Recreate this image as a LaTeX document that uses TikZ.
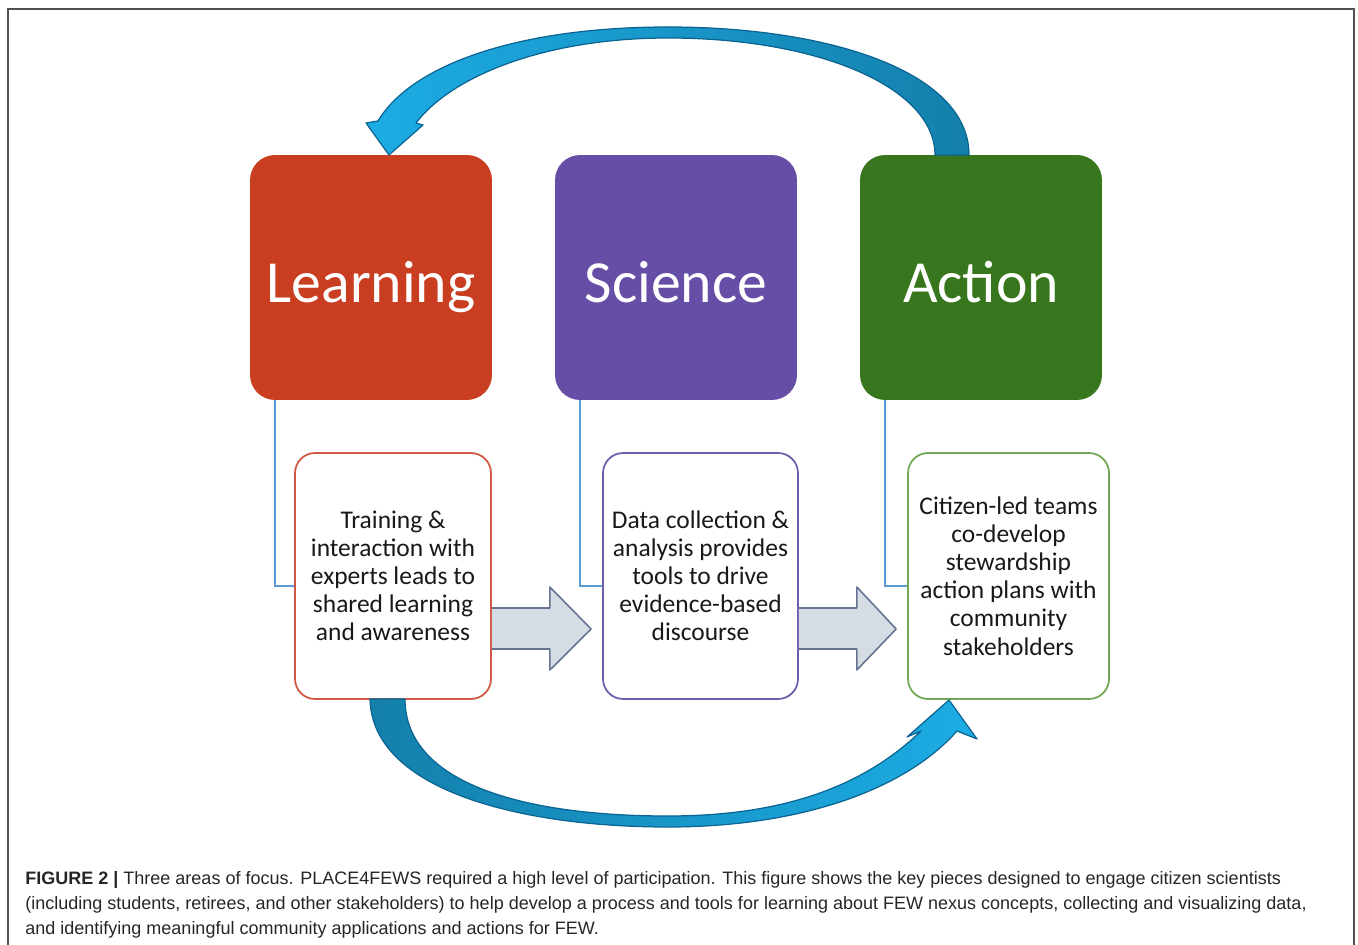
\documentclass[tikz,border=0pt]{standalone}
\usepackage{fontspec}
\setmainfont{Carlito}
\newfontfamily\capfont{Liberation Sans}
\usepackage{tikz}
\usetikzlibrary{arrows,shapes,calc,positioning}
\definecolor{rojo}{RGB}{201,61,33}
\definecolor{morado}{RGB}{102,77,165}
\definecolor{verde}{RGB}{56,118,29}
\definecolor{rojoClaro}{RGB}{208,88,66}
\definecolor{moradoClaro}{RGB}{112,92,172}
\definecolor{verdeClaro}{RGB}{114,168,84}
\definecolor{celeste}{RGB}{91,155,213}
\definecolor{grisAzul}{RGB}{214,220,228}
\definecolor{pizarra}{RGB}{100,116,145}
\definecolor{azulClaro}{RGB}{28,172,228}
\definecolor{azulOscuro}{RGB}{20,128,172}
\definecolor{azulBorde}{RGB}{12,100,145}
\definecolor{marco}{RGB}{80,80,80}
\tikzstyle{head}  =[rectangle, rounded corners=0.5cm, minimum width=4.84cm,
                    minimum height=4.9cm, text=white, inner sep=0pt,
                    text height=29pt, text depth=0pt,
                    font=\fontsize{34}{40}\selectfont]
\tikzstyle{info}  =[rectangle, rounded corners=0.4cm, draw, fill=white,
                    minimum height=4.92cm, line width=1pt, inner sep=0pt,
                    align=center, text=black!90,
                    font=\fontsize{14.5}{16}\selectfont]
\tikzstyle{link}  =[line width=1pt, celeste]
\tikzstyle{block} =[draw=pizarra, fill=grisAzul, line width=0.9pt,
                    line join=round]
\tikzstyle{cycleArrow}=[draw=azulBorde, line width=0.7pt, line join=round]
\tikzstyle{leyenda}=[anchor=base west, inner sep=0pt, text=black!85,
                    font=\capfont\fontsize{10.25}{12}\selectfont]

\begin{document}
\begin{tikzpicture}[x=0.02cm,y=-0.02cm]
    \useasboundingbox (0,0) rectangle (1358,945);
    \draw [marco, line width=0.9pt] (8,945) -- (8,9) -- (1354,9) -- (1354,945);

    % three areas
    \draw (371,277.5) node (L) [head, fill=rojo] {Learning};
    \draw (676,277.5) node (S) [head, fill=morado] {Science};
    \draw (981,277.5) node (A) [head, fill=verde] {Action};

    % what each one does
    \draw (393,576) node (l) [info, draw=rojoClaro, minimum width=3.92cm]
        {Training \&\\interaction with\\experts leads to\\shared learning\\and awareness};
    \draw (700.5,576) node (s) [info, draw=moradoClaro, minimum width=3.9cm]
        {Data collection \&\\analysis provides\\tools to drive\\evidence-based\\discourse};
    \draw (1008.5,576) node (a) [info, draw=verdeClaro, minimum width=4.02cm]
        {Citizen-led teams\\co-develop\\stewardship\\action plans with\\community\\stakeholders};

    \foreach \i/\j in {L/l,S/s,A/a}
        \draw [link] ([xshift=0.5cm]\i.south west) |- ([yshift=-0.2cm]\j.west);

    \foreach \i/\j in {l/s,s/a}
        \draw [block] ($(\i.east)+(0,32)$) -- ++(58,0) -- ++(0,-21)
            -- ($(\j.west)+(-11,53)$) -- ($(\i.east)+(58,94)$) -- ++(0,-21)
            -- ($(\i.east)+(0,73)$);

    % cycle back from action to learning
    \draw [cycleArrow, left color=azulClaro, right color=azulOscuro]
        (969,155) .. controls (969,72) and (830,27) .. (668,27)
        .. controls (520,27) and (412,64) .. (378,121) -- (366,123)
        -- (389,155) -- (423,125) -- (416,123)
        .. controls (452,76) and (545,38) .. (668,38)
        .. controls (820,38) and (935,88) .. (935,155) -- cycle;
    \draw [cycleArrow, left color=azulOscuro, right color=azulClaro]
        (370,699) .. controls (372,790) and (520,827) .. (668,827)
        .. controls (800,827) and (905,790) .. (957,731) -- (977,739)
        -- (949,700) -- (907,737) -- (921,731)
        .. controls (862,788) and (780,816) .. (668,816)
        .. controls (520,816) and (405,782) .. (405,699) -- cycle;

    % caption
    \node (c1) [leyenda] at (25,884) {\textbf{FIGURE 2 |} Three areas of focus. PLACE4FEWS required a high level of participation. This figure shows the key pieces designed to engage citizen scientists};
    \node (c2) [leyenda] at (25,909) {(including students, retirees, and other stakeholders) to help develop a process and tools for learning about FEW nexus concepts, collecting and visualizing data,};
    \node (c3) [leyenda] at (25,934) {and identifying meaningful community applications and actions for FEW.};
\end{tikzpicture}
\end{document}
